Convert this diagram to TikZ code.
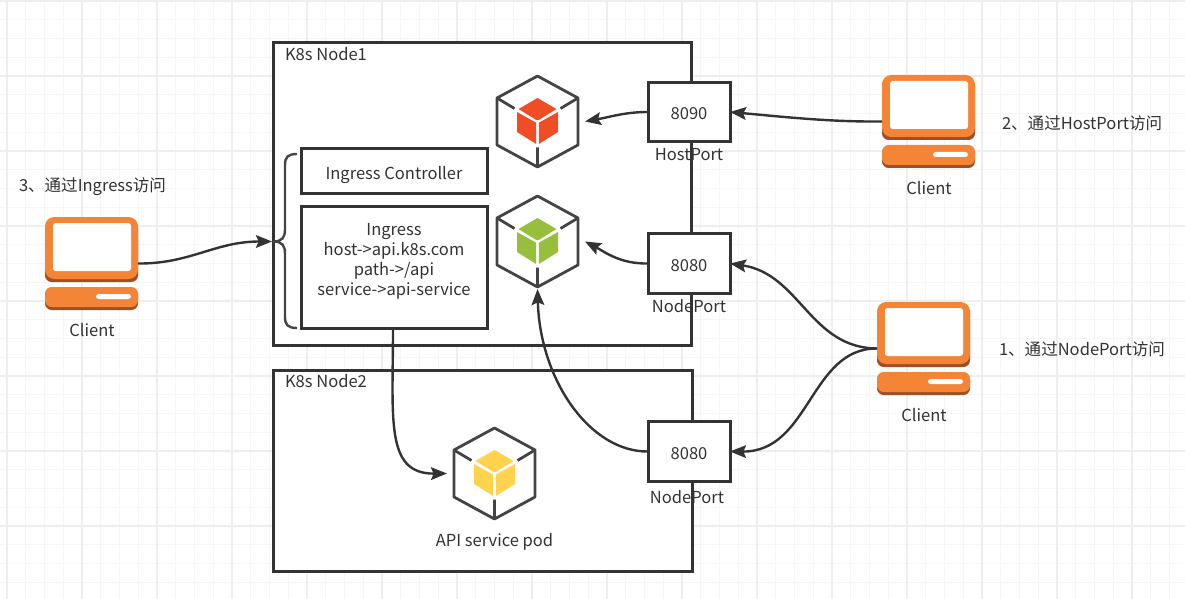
\documentclass[tikz,border=0pt]{standalone}
\usepackage{fontspec}
\setmainfont{Noto Sans CJK SC}
\usetikzlibrary{arrows.meta}
\definecolor{ink}{HTML}{333333}
\definecolor{gridmin}{HTML}{F6F6F6}
\definecolor{gridmaj}{HTML}{EEEEEE}
\definecolor{orangeA}{HTML}{F58536}
\definecolor{orangeB}{HTML}{9D5025}
\definecolor{hexline}{HTML}{444444}
\definecolor{podred}{HTML}{F04C26}
\definecolor{podgreen}{HTML}{98BF3B}
\definecolor{podyellow}{HTML}{FFD34E}
\tikzset{
  x=0.75pt,y=-0.75pt,
  every node/.style={font=\fontsize{12.4pt}{15pt}\selectfont,text=ink,inner sep=0pt,outer sep=0pt},
  frame/.style={draw=ink,line width=2.25pt,fill=white},
  portbox/.style={frame,minimum width=61.5pt,minimum height=44.5pt},
  ctlbox/.style={frame,minimum width=139.5pt,minimum height=33.75pt},
  rulebox/.style={frame,minimum width=139.5pt,minimum height=90.75pt},
  clientbox/.style={minimum width=69.75pt,minimum height=69.75pt},
  podbox/.style={minimum width=71.25pt,minimum height=71.25pt},
  link/.style={draw=ink,line width=1.8pt,-{Stealth[length=12pt,width=9.5pt,inset=2pt]}},
}
\newcommand{\clientshape}[2]{%
  \begin{scope}[shift={(#1,#2)}]
    \fill[orangeB] (0,4) [rounded corners=5pt] -- (0,65) -- (93,65) -- (93,4) -- cycle;
    \fill[orangeA,rounded corners=7pt] (0,0) rectangle (93,62);
    \fill[white,rounded corners=2pt] (8,6) rectangle (86,54);
    \fill[orangeB,rounded corners=5pt] (0,72) rectangle (93,93);
    \fill[orangeA,rounded corners=5pt] (0,70) rectangle (93,90);
    \fill[white,rounded corners=2pt] (51,77) rectangle (86,82);
  \end{scope}}
\newcommand{\podshape}[3]{%
  \begin{scope}[shift={(#1,#2)}]
    \draw[hexline,line width=2.1pt,line join=round] (0,-45.5) -- (40.5,-23.5) -- (40.5,23.5) -- (0,45.5) -- (-40.5,23.5) -- (-40.5,-23.5) -- cycle;
    \draw[hexline,line width=2.1pt] (-40.5,-23.5) -- (-23,-13) (40.5,-23.5) -- (23,-13) (0,45.5) -- (0,26);
    \fill[#3] (0,-23.5) -- (-19,-12.5) -- (-1.2,-1.5) -- (1.2,-1.5) -- (19,-12.5) -- cycle;
    \fill[#3] (-20.5,-9.5) -- (-1.3,1.2) -- (-1.3,22.5) -- (-20.5,10.5) -- cycle;
    \fill[#3] (20.5,-9.5) -- (1.3,1.2) -- (1.3,22.5) -- (20.5,10.5) -- cycle;
  \end{scope}}
\begin{document}
\begin{tikzpicture}
\useasboundingbox (0,0) rectangle (1185,599);
\fill[white] (0,0) rectangle (1185,599);
% background grid
\foreach \i in {0,...,63} \draw[gridmin,line width=0.8pt] ({7+18.75*(\i-1)},0) -- ({7+18.75*(\i-1)},599);
\foreach \i in {0,...,32} \draw[gridmin,line width=0.8pt] (0,{1+18.75*\i}) -- (1185,{1+18.75*\i});
\foreach \i in {0,...,15} \draw[gridmaj,line width=1.2pt] ({7+75*\i},0) -- ({7+75*\i},599);
\foreach \i in {0,...,7} \draw[gridmaj,line width=1.2pt] (0,{1+75*\i}) -- (1185,{1+75*\i});
% node frames
\node[frame,anchor=north west,minimum width=313.5pt,minimum height=226.5pt] (node1) at (273,43) {};
\node[frame,anchor=north west,minimum width=314.25pt,minimum height=150.75pt] (node2) at (273,370.5) {};
\node[anchor=west] (node1label) at (285,54) {K8s Node1};
\node[anchor=west] (node2label) at (285,381) {K8s Node2};
% boxes
\node[portbox] (p8090) at (689,112) {};
\node[portbox] (p8080a) at (689,263.5) {};
\node[portbox] (p8080b) at (689,451.5) {};
\node (t8090) at (689,114) {8090};
\node (t8080a) at (689,266) {8080};
\node (t8080b) at (689,454) {8080};
\node (hostlabel) at (689,155) {HostPort};
\node (nodelabela) at (689,306) {NodePort};
\node (nodelabelb) at (687,497) {NodePort};
\node[ctlbox] (ctl) at (394,171.5) {};
\node (ctllabel) at (394,175) {Ingress Controller};
\node[rulebox] (rule) at (394,267.5) {};
\node[align=center] (rulelabel) at (394,261.5) {Ingress\\host->api.k8s.com\\path->/api\\service->api-service};
% brace
\coordinate (bracetip) at (272,241.5);
\draw[hexline,line width=1.8pt] (297,154) .. controls (288,154) and (285,157) .. (285,165) -- (285,229) .. controls (285,238) and (282,241.5) .. (273,241.5) .. controls (282,241.5) and (285,245) .. (285,254) -- (285,317) .. controls (285,325) and (288,328) .. (297,328);
% pods
\node[podbox] (podred) at (537.5,121.5) {};
\node[podbox] (podgreen) at (537.5,241.5) {};
\node[podbox] (podyellow) at (494.5,473.5) {};
\podshape{537.5}{121.5}{podred}
\podshape{537.5}{241.5}{podgreen}
\podshape{494.5}{473.5}{podyellow}
\node (podlabel) at (494.5,542) {API service pod};
% clients
\node[clientbox] (cleft) at (91.5,263.5) {};
\node[clientbox] (ctop) at (928.5,121.5) {};
\node[clientbox] (cbot) at (923.5,348.5) {};
\clientshape{45}{217}
\clientshape{882}{75}
\clientshape{877}{302}
\node (cleftlabel) at (92,330) {Client};
\node (ctoplabel) at (929,188) {Client};
\node (cbotlabel) at (924,415) {Client};
\node[anchor=west] (note1) at (999,349) {1、通过NodePort访问};
\node[anchor=west] (note2) at (1002,123) {2、通过HostPort访问};
\node[anchor=west] (note3) at (19,187) {3、通过Ingress访问};
% connectors
\draw[link] (ctop.west) .. controls (830,122) and (785,117) .. (p8090.east);
\draw[link] (p8090.west) .. controls (625,112) and (610,117) .. (podred.east);
\draw[link] (p8080a.west) .. controls (620,264) and (605,252) .. (podgreen.east);
\draw[link] (p8080b.west) .. controls (590,452) and (540,380) .. (podgreen.south);
\draw[link] (cbot.west) .. controls (810,348) and (800,274) .. (p8080a.east);
\draw[link] (cbot.west) .. controls (810,348) and (810,452) .. (p8080b.east);
\draw[link] (cleft.east) .. controls (190,264) and (215,241.5) .. (bracetip);
\draw[link] (393,328) .. controls (393,420) and (385,474) .. (podyellow.west);
\end{tikzpicture}
\end{document}
